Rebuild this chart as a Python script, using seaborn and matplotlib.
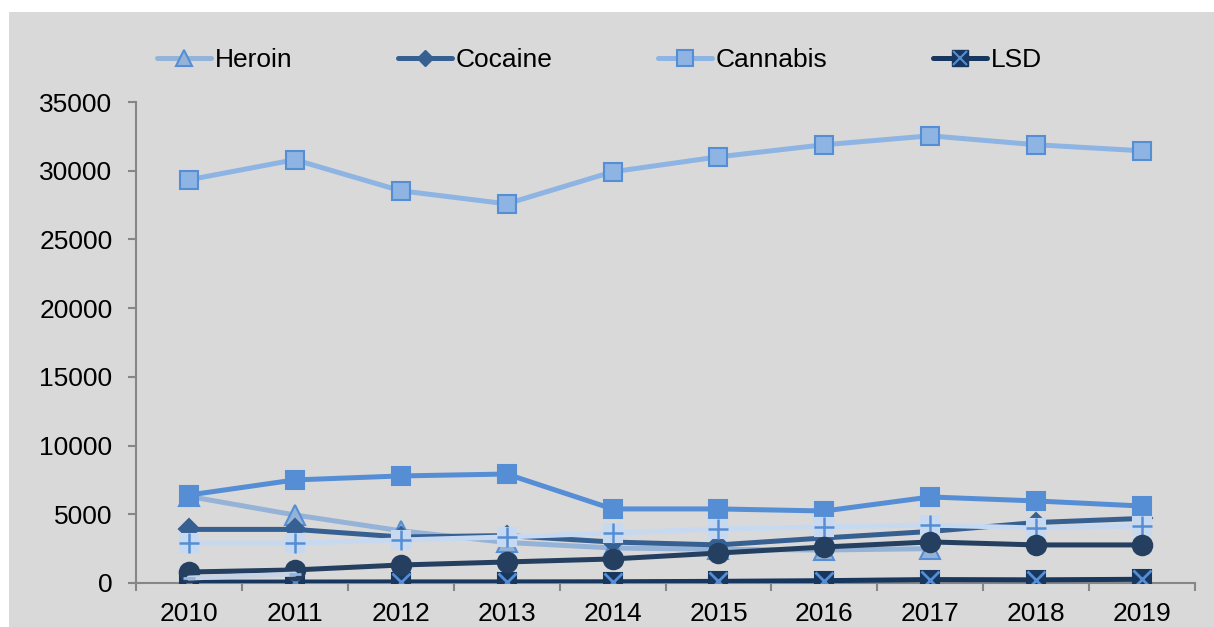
import numpy as np
import pandas as pd
import matplotlib
matplotlib.use("Agg")
import matplotlib.pyplot as plt
from matplotlib.lines import Line2D
from matplotlib.patches import Rectangle
from matplotlib.legend_handler import HandlerTuple
import seaborn as sns

years = ["2010", "2011", "2012", "2013", "2014", "2015", "2016", "2017", "2018", "2019"]
heroin = [6300, 4950, 3800, 2950, 2550, 2450, 2400, 2500, np.nan, np.nan]
cocaine = [3900, 3900, 3350, 3450, 2980, 2770, 3280, 3750, 4400, 4700]
cannabis = [29340, 30800, 28540, 27590, 29920, 31010, 31890, 32540, 31890, 31450]
lsd = [60, 70, 80, 80, 90, 120, 170, 250, 230, 270]
series5 = [6400, 7500, 7790, 7930, 5390, 5390, 5240, 6260, 5970, 5600]
series6 = [2900, 2900, 3130, 3350, 3640, 3930, 4080, 4220, 4000, 4150]
series7 = [800, 950, 1310, 1530, 1750, 2180, 2620, 2990, 2770, 2770]
series8 = [360, 650, np.nan, np.nan, np.nan, np.nan, np.nan, np.nan, np.nan, np.nan]
yticks = [0, 5000, 10000, 15000, 20000, 25000, 30000, 35000]

sns.set_style("white")
plt.rcParams["font.family"] = ["Liberation Sans", "DejaVu Sans"]
plt.rcParams["text.color"] = "black"
plt.rcParams["xtick.color"] = "black"
plt.rcParams["ytick.color"] = "black"

FS = 19

fig = plt.figure(figsize=(12.14, 6.27), dpi=100)
fig.patch.set_facecolor("white")
fig.patches.append(Rectangle((9 / 1214, 0), 1 - 9 / 1214, 1 - 12 / 627,
                             transform=fig.transFigure, facecolor="#D9D9D9",
                             edgecolor="none", zorder=-10))
ax = fig.add_axes([136 / 1214, 1 - 583 / 627, (1195 - 136) / 1214, (583 - 102) / 627])
ax.set_facecolor("none")

x = np.arange(len(years))
BLUE = "#558ED5"

def draw(vals, color, marker=None, ms=12, mfc=None, mec=None, lw=3.6, z=2, mew=1.5):
    d = pd.DataFrame({"x": x, "y": vals}).dropna()
    sns.lineplot(data=d, x="x", y="y", ax=ax, color=color, linewidth=lw,
                 marker=marker, markersize=ms,
                 markerfacecolor=mfc if mfc else color,
                 markeredgecolor=mec if mec else color,
                 markeredgewidth=mew, zorder=z, legend=False)

def overlay(vals, marker, ms, color, z, mew=1.8):
    d = pd.DataFrame({"x": x, "y": vals}).dropna()
    sns.scatterplot(data=d, x="x", y="y", ax=ax, marker=marker, s=ms ** 2,
                    color=color, linewidth=mew, zorder=z, legend=False)

# Heroin
draw(heroin, "#95B3D7", marker="^", ms=14, mfc="#95B3D7", mec=BLUE, z=2)
# Cocaine
draw(cocaine, "#376092", marker="D", ms=10, z=3)
# Cannabis
draw(cannabis, "#8DB4E2", marker="s", ms=13, mfc="#8DB4E2", mec=BLUE, z=4)
# LSD
draw(lsd, "#17375E", marker="s", ms=13, mfc="#17375E", mec="#17375E", z=5)
overlay(lsd, "x", 13, BLUE, 5.1, mew=2)
# Series 5
draw(series5, BLUE, marker="s", ms=13, z=6)
# Series 6
draw(series6, "#C6D9F1", marker="s", ms=13, mfc="#C6D9F1", mec="#C6D9F1", z=7)
overlay(series6, "+", 14, BLUE, 7.1)
# Series 7
draw(series7, "#243F60", marker="o", ms=14, z=8)
# Series 8
draw(series8, "#C6D2E6", marker="_", ms=8, mfc=BLUE, mec="#8DB4E2", z=9, mew=2)

ax.set_xlim(-0.5, len(years) - 0.5)
ax.set_ylim(0, 35000)
ax.set_yticks(yticks)
ax.set_yticklabels([str(v) for v in yticks])
ax.set_xticks(x)
ax.set_xticklabels(years)
ax.set_xticks(np.arange(-0.5, len(years), 1.0), minor=True)
ax.set_xlabel("")
ax.set_ylabel("")
for s in ["top", "right"]:
    ax.spines[s].set_visible(False)
for s in ["left", "bottom"]:
    ax.spines[s].set_color("#868686")
    ax.spines[s].set_linewidth(1.5)
ax.tick_params(axis="y", which="major", length=6, width=1.5, color="#868686",
               labelsize=FS, pad=11, left=True, labelcolor="black")
ax.tick_params(axis="x", which="major", length=0, labelsize=FS, pad=14,
               labelcolor="black")
ax.tick_params(axis="x", which="minor", length=6, width=1.5, color="#868686",
               bottom=True, direction="out")

handles = [
    Line2D([], [], color="#95B3D7", lw=3.6, marker="^", markersize=11,
           markerfacecolor="#95B3D7", markeredgecolor=BLUE, markeredgewidth=1.5),
    Line2D([], [], color="#376092", lw=3.6, marker="D", markersize=8),
    Line2D([], [], color="#8DB4E2", lw=3.6, marker="s", markersize=11,
           markerfacecolor="#8DB4E2", markeredgecolor=BLUE, markeredgewidth=1.5),
    (Line2D([], [], color="#17375E", lw=3.6, marker="s", markersize=11,
            markerfacecolor="#17375E", markeredgecolor="#17375E"),
     Line2D([], [], color="none", lw=0, marker="x", markersize=10,
            markeredgecolor=BLUE, markeredgewidth=1.5)),
]
labels = ["Heroin", "Cocaine", "Cannabis", "LSD"]
fig.legend(handles, labels, loc="center left",
           bbox_to_anchor=(157 / 1214, 1 - 60 / 627), ncol=4, frameon=False,
           fontsize=FS, handlelength=2.04, handletextpad=0.15, columnspacing=4.0,
           borderpad=0, borderaxespad=0, labelcolor="black",
           handler_map={tuple: HandlerTuple(ndivide=1, pad=0)})

fig.savefig("out.png", dpi=100, facecolor=fig.get_facecolor())
